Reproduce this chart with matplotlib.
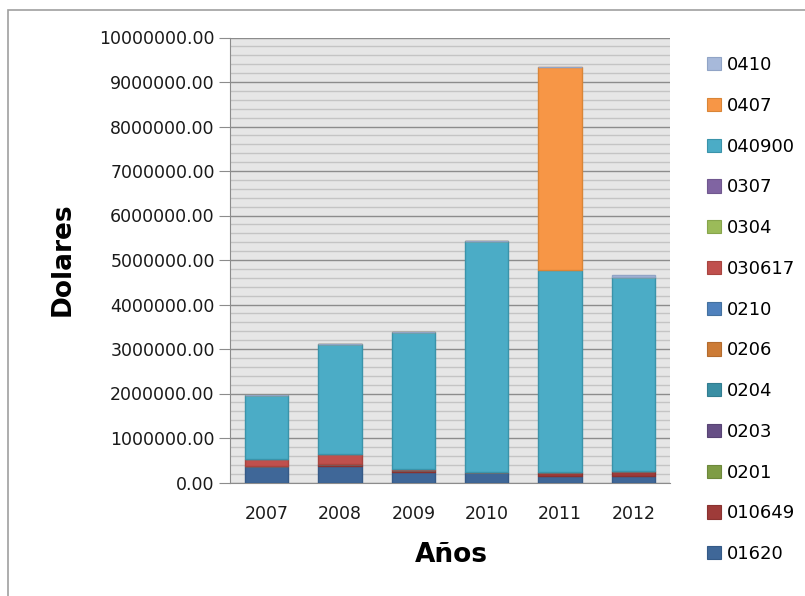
import matplotlib
matplotlib.use("Agg")
import matplotlib.pyplot as plt
from matplotlib.patches import Rectangle, Patch
from matplotlib.ticker import MultipleLocator, FormatStrFormatter
import numpy as np

years = ["2007", "2008", "2009", "2010", "2011", "2012"]

# stacking order, bottom to top
series_names = ["01620", "010649", "0201", "0203", "0204", "0206", "0210",
                "030617", "0304", "0307", "040900", "0407", "0410"]

v_01620 = [375000, 375000, 225000, 240000, 155000, 155000]
v_010649 = [0, 35000, 45000, 0, 70000, 100000]
v_0201 = [0, 0, 0, 0, 0, 0]
v_0203 = [0, 0, 0, 0, 0, 0]
v_0204 = [0, 0, 0, 0, 0, 0]
v_0206 = [0, 0, 0, 0, 0, 0]
v_0210 = [0, 0, 0, 0, 0, 0]
v_030617 = [150000, 240000, 25000, 0, 0, 0]
v_0304 = [0, 0, 0, 0, 0, 0]
v_0307 = [0, 0, 0, 0, 0, 0]
v_040900 = [1448000, 2470000, 3095000, 5180000, 4550000, 4370000]
v_0407 = [0, 0, 0, 0, 4570000, 0]
v_0410 = [0, 0, 0, 0, 0, 45000]

series_values = [v_01620, v_010649, v_0201, v_0203, v_0204, v_0206, v_0210,
                 v_030617, v_0304, v_0307, v_040900, v_0407, v_0410]

fills = ["#3F6798", "#9E3B39", "#7E9C45", "#664F85", "#3A8FA4", "#CC7B36",
         "#4F81BD", "#C0504D", "#9BBB59", "#8064A2", "#4BACC6", "#F79646",
         "#A7B9DA"]
edges = ["#355a87", "#8a3230", "#6d883b", "#584474", "#327d90", "#b36b2e",
         "#44719f", "#a8453f", "#87a54c", "#70588f", "#3a93aa", "#d98537",
         "#91a4c6"]

fig = plt.figure(figsize=(8.05, 5.96), dpi=100)
fig.patch.set_facecolor("white")

# outer chart frame (runs off the right and bottom edges)
fig.add_artist(Rectangle((8 / 805, -0.1), 1.2, 1 - 10 / 596 + 0.1,
                         transform=fig.transFigure, fill=False,
                         edgecolor="#a0a0a0", linewidth=1.2))

ax = fig.add_axes([230 / 805, 1 - 482.5 / 596, 440 / 805, 445 / 596])
ax.set_facecolor("#e6e6e6")

x = np.arange(len(years))
bottom = np.zeros(len(years))
for name, vals, fc, ec in zip(series_names, series_values, fills, edges):
    vals = np.array(vals, dtype=float)
    ax.bar(x, vals, width=0.59, bottom=bottom, color=fc, edgecolor=ec,
           linewidth=1.0, zorder=3, label=name)
    bottom += vals

ax.set_xlim(-0.5, len(years) - 0.5)
ax.set_ylim(0, 10000000)
ax.set_xticks(x)
ax.set_xticklabels(years)
ax.yaxis.set_major_locator(MultipleLocator(1000000))
ax.yaxis.set_minor_locator(MultipleLocator(200000))
ax.yaxis.set_major_formatter(FormatStrFormatter("%.2f"))

ax.grid(axis="y", which="major", color="#8c8c8c", linewidth=1.0, zorder=1)
ax.grid(axis="y", which="minor", color="#c4c4c4", linewidth=1.0, zorder=1)
ax.set_axisbelow(True)

for side in ("top", "right"):
    ax.spines[side].set_visible(False)
ax.spines["left"].set_color("#8c8c8c")
ax.spines["bottom"].set_color("#8c8c8c")

ax.tick_params(axis="y", which="major", length=8, color="#8c8c8c",
               labelsize=12.5, pad=3, labelcolor="#1a1a1a")
ax.tick_params(axis="y", which="minor", length=0)
ax.tick_params(axis="x", length=0, labelsize=12.5, pad=16,
               labelcolor="#1a1a1a")

fig.text(63 / 805, 1 - 259 / 596, "Dolares", rotation=90, fontsize=19,
         fontweight="bold", ha="center", va="center")
fig.text(451 / 805, 1 - 555 / 596, "Años", fontsize=19, fontweight="bold",
         ha="center", va="center")

handles = [Patch(facecolor=fc, edgecolor=ec, linewidth=0.8)
           for fc, ec in zip(fills, edges)][::-1]
labels = series_names[::-1]
fig.legend(handles, labels, loc="upper left",
           bbox_to_anchor=(698 / 805, 1 - 47 / 596), frameon=False,
           fontsize=13, handlelength=0.75, handleheight=0.75,
           handletextpad=0.35, labelspacing=1.26, borderpad=0)

fig.savefig("out.png", dpi=100)
